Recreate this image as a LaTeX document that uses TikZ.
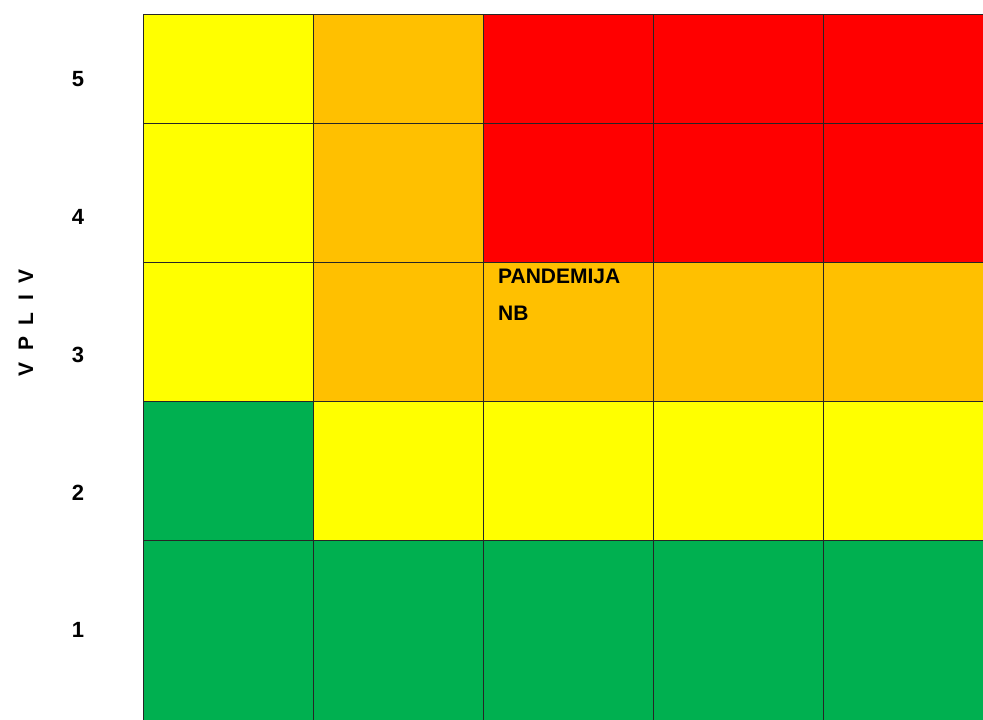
\documentclass[tikz,border=0pt]{standalone}
\usepackage{fontspec}
\setmainfont{Liberation Sans}
\usepackage{xcolor}
\definecolor{rskyellow}{HTML}{FFFF00}
\definecolor{rskorange}{HTML}{FFC000}
\definecolor{rskred}{HTML}{FF0000}
\definecolor{rskgreen}{HTML}{00B050}

\begin{document}
\begin{tikzpicture}[x=1pt, y=-1pt,
  cell/.style={rectangle, draw=black!85, line width=1.3pt, anchor=north west, inner sep=0pt, minimum width=170pt, minimum height=139pt},
  toprow/.style={cell, minimum height=109pt},
  lastrow/.style={cell, minimum height=200pt},
  ylw/.style={fill=rskyellow},
  org/.style={fill=rskorange},
  rd/.style={fill=rskred},
  grn/.style={fill=rskgreen},
  num/.style={font=\bfseries\fontsize{22}{26}\selectfont, anchor=base, inner sep=0pt},
  lbl/.style={font=\bfseries\fontsize{21}{25}\selectfont, anchor=base west, inner sep=0pt}
]
\useasboundingbox (0,0) rectangle (983,720);
% row 5
\node[toprow, ylw] (c51) at (143,14) {};
\node[toprow, org] (c52) at (313,14) {};
\node[toprow, rd] (c53) at (483,14) {};
\node[toprow, rd] (c54) at (653,14) {};
\node[toprow, rd] (c55) at (823,14) {};
% row 4
\node[cell, ylw] (c41) at (143,123) {};
\node[cell, org] (c42) at (313,123) {};
\node[cell, rd] (c43) at (483,123) {};
\node[cell, rd] (c44) at (653,123) {};
\node[cell, rd] (c45) at (823,123) {};
% row 3
\node[cell, ylw] (c31) at (143,262) {};
\node[cell, org] (c32) at (313,262) {};
\node[cell, org] (c33) at (483,262) {};
\node[cell, org] (c34) at (653,262) {};
\node[cell, org] (c35) at (823,262) {};
% row 2
\node[cell, grn] (c21) at (143,401) {};
\node[cell, ylw] (c22) at (313,401) {};
\node[cell, ylw] (c23) at (483,401) {};
\node[cell, ylw] (c24) at (653,401) {};
\node[cell, ylw] (c25) at (823,401) {};
% row 1
\node[lastrow, grn] (c11) at (143,540) {};
\node[lastrow, grn] (c12) at (313,540) {};
\node[lastrow, grn] (c13) at (483,540) {};
\node[lastrow, grn] (c14) at (653,540) {};
\node[lastrow, grn] (c15) at (823,540) {};
% axis
\node[num] (n5) at (78,86) {5};
\node[num] (n4) at (78,224) {4};
\node[num] (n3) at (78,362) {3};
\node[num] (n2) at (78,500) {2};
\node[num] (n1) at (78,637) {1};
\node[font=\bfseries\fontsize{21}{25}\selectfont\addfontfeature{LetterSpace=55}, rotate=90, inner sep=0pt] (vpliv) at (26,323) {VPLIV};
% risk
\node[lbl] (pand) at (498,283) {PANDEMIJA};
\node[lbl] (nb) at (498,320) {NB};
\end{tikzpicture}
\end{document}
